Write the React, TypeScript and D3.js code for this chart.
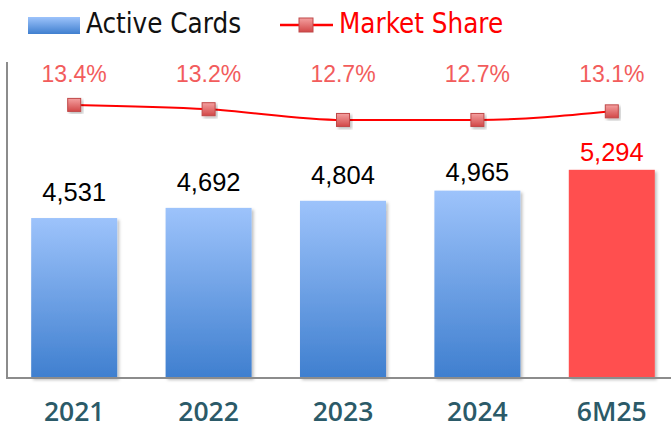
import React from "react";
import * as d3 from "d3";

const categories = ["2021", "2022", "2023", "2024", "6M25"];
const activeCards = [4531, 4692, 4804, 4965, 5294];
const marketShare = [13.4, 13.2, 12.7, 12.7, 13.1];
const cardLabels = ["4,531", "4,692", "4,804", "4,965", "5,294"];
const shareLabels = ["13.4%", "13.2%", "12.7%", "12.7%", "13.1%"];

const W = 671;
const H = 428;
const narrow = "'DejaVu Sans Condensed', 'Liberation Sans Narrow', 'Liberation Sans', sans-serif";
const arial = "'Liberation Sans', Arial, sans-serif";
// gap between each bar top and its value label (layout)
const labelGap = [17, 16.5, 16.5, 9.5, 9];

export default function App() {
  const x = d3.scaleBand<string>().domain(categories).range([7, 679]).paddingInner(0.36).paddingOuter(0.18);
  const y = d3.scaleLinear().domain([2000, 7000]).range([378, 62]);
  const y2 = d3.scaleLinear().domain([12, 14]).range([135, 92]);
  const cx = (c: string) => (x(c) as number) + x.bandwidth() / 2;
  const line = d3
    .line<number>()
    .x((_, i) => cx(categories[i]))
    .y((d) => y2(d))
    .curve(d3.curveMonotoneX);
  const last = categories.length - 1;
  return (
    <svg width={W} height={H} style={{ position: "absolute", left: 0, top: 0, background: "#fff" }}>
      <defs>
        <linearGradient id="bluegrad" x1="0" y1="0" x2="0" y2="1">
          <stop offset="0" stopColor="#9dc3fb" />
          <stop offset="1" stopColor="#3f7fcf" />
        </linearGradient>
        <linearGradient id="legblue" x1="0" y1="0" x2="0" y2="1">
          <stop offset="0" stopColor="#9dc3fb" />
          <stop offset="1" stopColor="#3f7fcf" />
        </linearGradient>
        <linearGradient id="mk" x1="0" y1="0" x2="0" y2="1">
          <stop offset="0" stopColor="#f4a0a0" />
          <stop offset="1" stopColor="#d24848" />
        </linearGradient>
        <filter id="sh" x="-20%" y="-20%" width="140%" height="140%">
          <feDropShadow dx="2" dy="2" stdDeviation="1.5" floodColor="#000" floodOpacity="0.25" />
        </filter>
      </defs>
      {/* legend */}
      <rect x={28} y={17} width={52} height={17} fill="url(#legblue)" />
      <text x={86} y={33} fontFamily={narrow} fontSize={27.5} fill="#111">Active Cards</text>
      <line x1={280} x2={333} y1={25} y2={25} stroke="#ff0000" strokeWidth={2.5} />
      <rect x={299} y={18} width={14} height={14} fill="url(#mk)" stroke="#c04848" strokeWidth={1} />
      <text x={339} y={33} fontFamily={narrow} fontSize={27.5} fill="#ff0000">Market Share</text>
      {/* bars */}
      {activeCards.map((v, i) => (
        <rect
          key={categories[i]}
          x={x(categories[i])}
          y={y(v)}
          width={x.bandwidth()}
          height={378 - y(v)}
          fill={i === last ? "#ff5050" : "url(#bluegrad)"}
          filter="url(#sh)"
        />
      ))}
      {/* axes */}
      <line x1={7} x2={7} y1={62} y2={379} stroke="#8c8c8c" strokeWidth={2} />
      <line x1={6} x2={671} y1={378} y2={378} stroke="#8c8c8c" strokeWidth={2} />
      {/* bar labels */}
      {activeCards.map((v, i) => (
        <text
          key={"l" + i}
          x={cx(categories[i])}
          y={y(v) - labelGap[i]}
          textAnchor="middle"
          fontFamily={arial}
          fontSize={25.5}
          fill={i === last ? "#ff0000" : "#000"}
        >
          {cardLabels[i]}
        </text>
      ))}
      {/* line */}
      <path d={line(marketShare) || ""} fill="none" stroke="#ff0000" strokeWidth={2} />
      {marketShare.map((v, i) => (
        <rect
          key={"m" + i}
          x={cx(categories[i]) - 6.5}
          y={y2(v) - 6.5}
          width={13}
          height={13}
          fill="url(#mk)"
          stroke="#c04848"
          strokeWidth={1}
          filter="url(#sh)"
        />
      ))}
      {marketShare.map((v, i) => (
        <text
          key={"s" + i}
          x={cx(categories[i])}
          y={82}
          textAnchor="middle"
          fontFamily={arial}
          fontSize={23}
          fill="#f25c5c"
        >
          {shareLabels[i]}
        </text>
      ))}
      {/* category labels */}
      {categories.map((c) => (
        <text
          key={"c" + c}
          x={cx(c)}
          y={421}
          textAnchor="middle"
          fontFamily="'Open Sans', 'Noto Sans', sans-serif"
          fontWeight={600}
          fontSize={26.5}
          fill="#2b5a68"
        >
          {c}
        </text>
      ))}
    </svg>
  );
}
